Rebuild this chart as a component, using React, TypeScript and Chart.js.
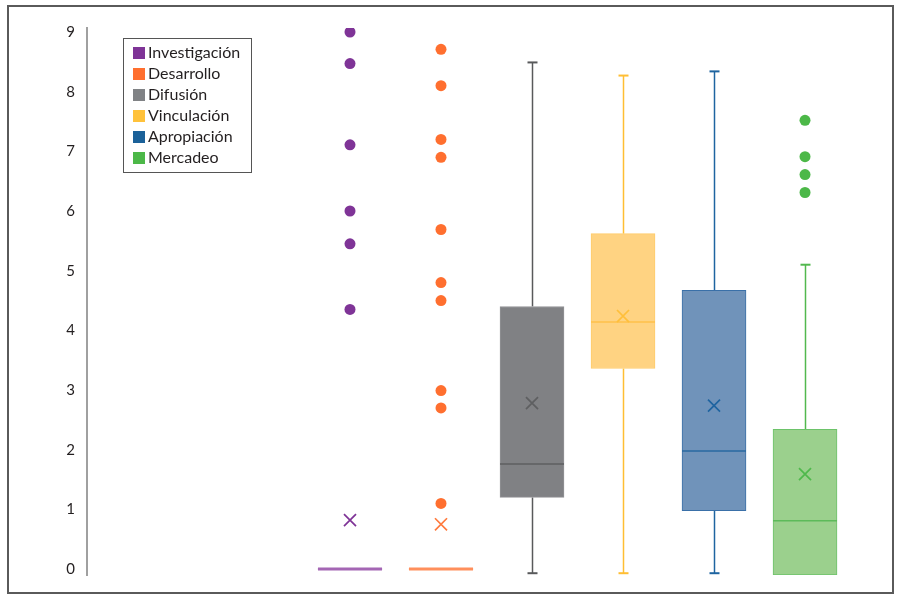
import React, { useEffect, useRef } from "react";
import { Chart, registerables } from "chart.js";

Chart.register(...registerables);

// ---- data ----
const SERIES = ["Investigación", "Desarrollo", "Difusión", "Vinculación", "Apropiación", "Mercadeo"];
const POSITIONS = [1, 2, 3, 4, 5, 6];
const WHISKER_LOW = [0, 0, -0.07, -0.07, -0.07, -0.1];
const Q1 = [0, 0, 1.2, 3.36, 0.98, -0.1];
const MEDIAN = [0, 0, 1.76, 4.14, 1.98, 0.81];
const Q3 = [0, 0, 4.4, 5.62, 4.67, 2.34];
const WHISKER_HIGH = [0, 0, 8.49, 8.27, 8.34, 5.1];
const MEAN = [0.82, 0.75, 2.78, 4.24, 2.74, 1.59];
const OUTLIERS_INVESTIGACION = [9.0, 8.47, 7.11, 6.0, 5.45, 4.35];
const OUTLIERS_DESARROLLO = [8.71, 8.1, 7.2, 6.9, 5.69, 4.8, 4.5, 2.99, 2.7, 1.1];
const OUTLIERS_MERCADEO = [7.52, 6.91, 6.61, 6.31];
const Y_TICKS = [0, 1, 2, 3, 4, 5, 6, 7, 8, 9];

// ---- styles ----
const LEGEND_COLORS = ["#7F3497", "#FF6F2F", "#808285", "#FFC23B", "#1B6199", "#4CB848"];
const BOX_FILL = ["#A466B4", "#FF8F5C", "#808184", "#FFD382", "#7093BA", "#9BD08D"];
const BOX_BORDER = ["#A466B4", "#FF8F5C", "#939497", "#FFCC6A", "#3A70A8", "#6DC36A"];
const MEDIAN_COLOR = ["#A466B4", "#FF8F5C", "#5E5F61", "#FFC04A", "#2868A0", "#5DBA5A"];
const MEDIAN_WIDTH = [3, 3, 1.5, 1.5, 1.5, 1.5];
const WHISKER_COLOR = ["#7F3497", "#FF6F2F", "#58595B", "#FFBE33", "#1E64A0", "#52B84E"];
const MEAN_COLOR = ["#7F3497", "#FF7A3D", "#5E5F61", "#FFBF3A", "#1F64A0", "#4FB94C"];
const FONT = "Lato, 'Open Sans', sans-serif";
const BOX_PX = 64;

const boxExtras = {
  id: "boxExtras",
  beforeDatasetsDraw(chart: any) {
    const { ctx, scales } = chart;
    const x = scales.x;
    const y = scales.y;
    ctx.save();
    POSITIONS.forEach((p, i) => {
      const px = Math.round(x.getPixelForValue(p)) + 0.5;
      ctx.strokeStyle = WHISKER_COLOR[i];
      ctx.lineWidth = 1.5;
      const seg = (a: number, b: number) => {
        if (a === b) return;
        const ya = y.getPixelForValue(a);
        const yb = y.getPixelForValue(b);
        ctx.beginPath();
        ctx.moveTo(px, ya);
        ctx.lineTo(px, yb);
        ctx.stroke();
        ctx.lineWidth = 2;
        ctx.beginPath();
        ctx.moveTo(px - 5, yb);
        ctx.lineTo(px + 5, yb);
        ctx.stroke();
        ctx.lineWidth = 1.5;
      };
      seg(Q3[i], WHISKER_HIGH[i]);
      seg(Q1[i], WHISKER_LOW[i]);
    });
    ctx.restore();
  },
  afterDatasetDraw(chart: any, args: any) {
    const i = args.index;
    if (i >= SERIES.length) return;
    const { ctx, scales } = chart;
    const px = scales.x.getPixelForValue(POSITIONS[i]);
    const py = scales.y.getPixelForValue(MEDIAN[i]);
    ctx.save();
    ctx.strokeStyle = MEDIAN_COLOR[i];
    ctx.lineWidth = MEDIAN_WIDTH[i];
    ctx.beginPath();
    ctx.moveTo(px - BOX_PX / 2, py);
    ctx.lineTo(px + BOX_PX / 2, py);
    ctx.stroke();
    ctx.restore();
  },
  afterDraw(chart: any) {
    const { ctx, chartArea } = chart;
    const left = chartArea.left + 36;
    const top = chartArea.top + 10;
    const w = 128;
    const rowH = 21;
    const h = 134;
    ctx.save();
    ctx.fillStyle = "#ffffff";
    ctx.fillRect(left, top, w, h);
    ctx.strokeStyle = "#555555";
    ctx.lineWidth = 1;
    ctx.strokeRect(left + 0.5, top + 0.5, w, h);
    ctx.font = `16px ${FONT}`;
    ctx.textBaseline = "middle";
    ctx.textAlign = "left";
    SERIES.forEach((s, i) => {
      const cy = top + 15 + i * rowH;
      ctx.fillStyle = LEGEND_COLORS[i];
      ctx.fillRect(left + 10, cy - 6, 12, 12);
      ctx.fillStyle = "#231F20";
      ctx.fillText(s, left + 25, cy);
    });
    ctx.restore();
  },
};

export default function App() {
  const ref = useRef<HTMLCanvasElement>(null);
  useEffect(() => {
    if (!ref.current) return;
    const datasets: any[] = [];
    SERIES.forEach((s, i) => {
      datasets.push({
        type: "bar",
        label: s,
        data: [{ x: POSITIONS[i], y: [Q1[i], Q3[i]] }],
        backgroundColor: BOX_FILL[i],
        borderColor: BOX_BORDER[i],
        borderWidth: Q1[i] === Q3[i] ? 0 : 1,
        borderSkipped: false,
        barThickness: BOX_PX,
        grouped: false,
        order: 3,
      });
    });
    const outlierSets: [number, number[]][] = [
      [0, OUTLIERS_INVESTIGACION],
      [1, OUTLIERS_DESARROLLO],
      [5, OUTLIERS_MERCADEO],
    ];
    outlierSets.forEach(([i, vals]) => {
      datasets.push({
        type: "scatter",
        label: SERIES[i] + " atípicos",
        data: vals.map((v) => ({ x: POSITIONS[i], y: v })),
        pointRadius: 5.5,
        pointBackgroundColor: LEGEND_COLORS[i],
        pointBorderWidth: 0,
        order: 2,
      });
    });
    datasets.push({
      type: "scatter",
      label: "Media",
      data: MEAN.map((m, i) => ({ x: POSITIONS[i], y: m })),
      pointStyle: "crossRot",
      pointRadius: 8.5,
      pointBorderColor: MEAN_COLOR,
      pointBorderWidth: 1.7,
      order: 1,
    });

    const chart = new Chart(ref.current, {
      type: "bar",
      data: { datasets },
      options: {
        animation: false,
        responsive: true,
        maintainAspectRatio: false,
        events: [],
        layout: { padding: { top: 21, bottom: 17, left: 0, right: 13 } },
        plugins: { legend: { display: false }, tooltip: { enabled: false } },
        scales: {
          x: {
            type: "linear",
            display: false,
            offset: false,
            min: -1.89,
            max: 6.813,
          },
          y: {
            type: "linear",
            min: -0.1,
            max: 9.067,
            afterBuildTicks: (axis: any) => {
              axis.ticks = Y_TICKS.map((v) => ({ value: v }));
            },
            afterFit: (axis: any) => {
              axis.width = 78;
              axis.paddingTop = 0;
              axis.paddingBottom = 0;
            },
            grid: { display: false, drawTicks: false },
            border: { display: true, color: "#A0A0A0", width: 2 },
            ticks: {
              padding: 12,
              color: "#231F20",
              font: { family: FONT, size: 15 },
              callback: (v: any) => String(v),
            },
          },
        },
      },
      plugins: [boxExtras],
    });
    return () => chart.destroy();
  }, []);

  return (
    <div
      style={{
        position: "absolute",
        left: 7,
        top: 5,
        width: 887,
        height: 589,
        border: "2px solid #5A5A5A",
        boxSizing: "border-box",
        background: "#fff",
      }}
    >
      <div style={{ position: "relative", width: "100%", height: "100%" }}>
        <canvas ref={ref} />
      </div>
    </div>
  );
}
